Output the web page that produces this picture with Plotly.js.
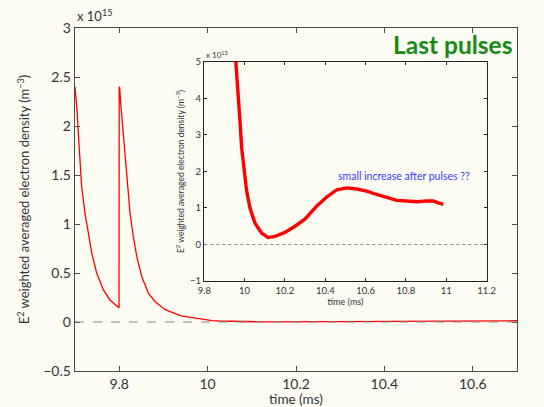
<!DOCTYPE html>
<html><head><meta charset="utf-8">
<script src="https://cdn.plot.ly/plotly-3.0.1.min.js"></script>
<style>html,body{margin:0;padding:0;background:#fcfcf3;}#chart{width:544px;height:407px;}</style>
</head><body><div id="chart"></div>
<script>
// time in ms
const time = [9.700, 9.704, 9.7075, 9.711, 9.715, 9.7226, 9.730, 9.738, 9.749, 9.764, 9.779, 9.794, 9.7996,
  9.800, 9.801, 9.804, 9.809, 9.8148, 9.819, 9.8245, 9.832, 9.8397, 9.851, 9.866, 9.881, 9.904, 9.940,
  9.957, 9.9686, 9.977, 9.9854, 9.9968, 10.010, 10.0266, 10.051, 10.0846, 10.116, 10.150, 10.200,
  10.250, 10.300, 10.357, 10.407, 10.457, 10.506, 10.556, 10.605, 10.655, 10.704, 10.754, 10.803,
  10.853, 10.903, 10.936, 10.961, 10.985];
// E^2 weighted averaged electron density, in units of 1e13 m^-3
const density13 = [240, 220, 193, 162, 138, 111, 90.5, 70, 50, 33, 22.5, 16, 14.6,
  240, 239, 220, 193, 162, 135, 111, 87, 67, 46.5, 29.5, 21, 12.6, 6.3,
  5.06, 4.10, 3.37, 2.64, 2.01, 1.46, 1.0, 0.59, 0.31, 0.19, 0.22, 0.33,
  0.50, 0.70, 1.05, 1.30, 1.50, 1.55, 1.52, 1.46, 1.37, 1.28, 1.21, 1.19,
  1.17, 1.19, 1.19, 1.14, 1.10];
const density15 = density13.map(v => v / 100);

const mainXTicks = [9.8, 10, 10.2, 10.4, 10.6];
const mainXLabels = ['9.8', '10', '10.2', '10.4', '10.6'];
const mainYTicks = [-0.5, 0, 0.5, 1, 1.5, 2, 2.5, 3];
const mainYLabels = ['\u22120.5', '0', '0.5', '1', '1.5', '2', '2.5', '3'];
const insetXTicks = [9.8, 10, 10.2, 10.4, 10.6, 10.8, 11, 11.2];
const insetXLabels = ['9.8', '10', '10.2', '10.4', '10.6', '10.8', '11', '11.2'];
const insetYTicks = [-1, 0, 1, 2, 3, 4, 5];
const insetYLabels = ['\u22121', '0', '1', '2', '3', '4', '5'];

const bg = '#fcfcf3';
const axc = '#4a4a4a';
const font = 'Lato, "Open Sans", sans-serif';

const traces = [
  {x: time, y: density15, xaxis: 'x', yaxis: 'y', mode: 'lines',
   line: {color: '#ff0000', width: 1.3}, hoverinfo: 'skip'},
  {x: time, y: density13, xaxis: 'x2', yaxis: 'y2', mode: 'lines',
   line: {color: '#ff0000', width: 3.4}, hoverinfo: 'skip'}
];

const layout = {
  width: 544, height: 407,
  paper_bgcolor: bg, plot_bgcolor: bg,
  showlegend: false,
  margin: {l: 75, r: 27, t: 28, b: 36},
  font: {family: font, color: '#333'},
  xaxis: {range: [9.7, 10.7], domain: [0, 1], anchor: 'y',
    tickvals: mainXTicks, ticktext: mainXLabels,
    showline: true, mirror: 'ticks', linecolor: axc, linewidth: 1.3,
    ticks: 'inside', ticklen: 5, tickcolor: axc, showgrid: false, zeroline: false,
    tickfont: {size: 14, color: '#333'},
    title: {text: 'time (ms)', font: {size: 13.5, color: '#333'}, standoff: 4}},
  yaxis: {range: [-0.5, 3], domain: [0, 1], anchor: 'x',
    tickvals: mainYTicks, ticktext: mainYLabels,
    showline: true, mirror: 'ticks', linecolor: axc, linewidth: 1.3,
    ticks: 'inside', ticklen: 5, tickcolor: axc, showgrid: false, zeroline: false,
    tickfont: {size: 14, color: '#333'},
    title: {text: 'E<sup>2</sup> weighted averaged electron density (m<sup>\u22123</sup>)',
      font: {size: 13, color: '#333'}, standoff: 10}},
  xaxis2: {range: [9.8, 11.2], domain: [0.2925, 0.9314], anchor: 'y2',
    tickvals: insetXTicks, ticktext: insetXLabels,
    showline: true, mirror: 'ticks', linecolor: '#222', linewidth: 1.3,
    ticks: 'inside', ticklen: 3, tickcolor: '#222', showgrid: false, zeroline: false,
    tickfont: {size: 9.5, color: '#333'},
    title: {text: 'time (ms)', font: {size: 9, color: '#333'}, standoff: 1}},
  yaxis2: {range: [-1, 5], domain: [0.2624, 0.9009], anchor: 'x2',
    tickvals: insetYTicks, ticktext: insetYLabels,
    showline: true, mirror: 'ticks', linecolor: '#222', linewidth: 1.3,
    ticks: 'inside', ticklen: 3, tickcolor: '#222', showgrid: false, zeroline: false,
    tickfont: {size: 9.5, color: '#333'},
    title: {text: 'E<sup>2</sup> weighted averaged electron density (m<sup>\u22123</sup>)',
      font: {size: 8.5, color: '#333'}, standoff: 4}},
  shapes: [
    {type: 'line', xref: 'x domain', yref: 'y', x0: 0, x1: 1, y0: 0, y1: 0,
     line: {color: '#888', width: 1, dash: 'dash'}},
    {type: 'line', xref: 'x2 domain', yref: 'y2', x0: 0, x1: 1, y0: 0, y1: 0,
     line: {color: '#888', width: 1, dash: 'dot'}}
  ],
  annotations: [
    {text: 'x 10<sup>15</sup>', xref: 'paper', yref: 'paper', x: 0, y: 1, xanchor: 'left', yanchor: 'bottom',
     yshift: 2, showarrow: false, font: {size: 13, color: '#333'}},
    {text: 'x 10<sup>13</sup>', xref: 'x2 domain', yref: 'y2 domain', x: 0, y: 1, xanchor: 'left', yanchor: 'bottom',
     showarrow: false, font: {size: 8, color: '#333'}},
    {text: '<b>Last pulses</b>', xref: 'paper', yref: 'paper', x: 0.993, y: 0.953, xanchor: 'right', yanchor: 'middle',
     showarrow: false, font: {size: 24.5, color: '#178a17'}},
    {text: 'small increase after pulses ??', xref: 'x2', yref: 'y2', x: 10.79, y: 1.88, xanchor: 'center', yanchor: 'middle',
     showarrow: false, font: {size: 10.5, color: '#3a3aff'}}
  ]
};

Plotly.newPlot('chart', traces, layout, {staticPlot: true, displayModeBar: false});
</script></body></html>
